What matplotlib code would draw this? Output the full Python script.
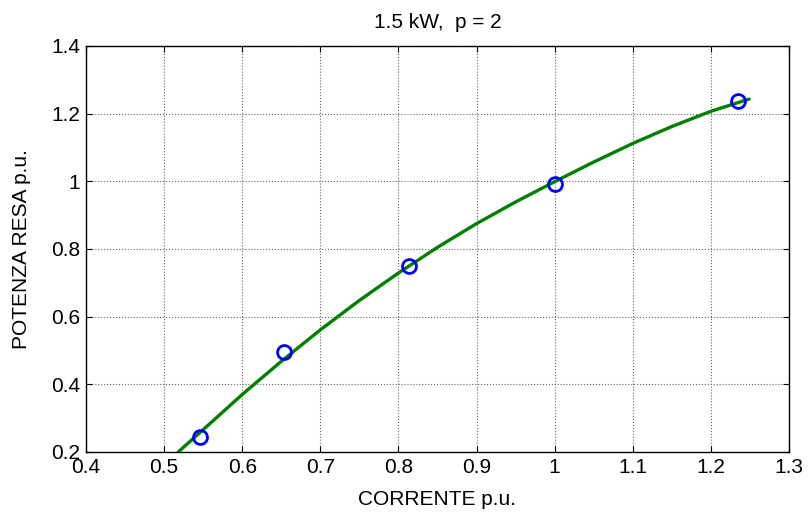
import matplotlib
matplotlib.use("Agg")
import matplotlib.pyplot as plt

# measured points
meas_x = [0.546, 0.654, 0.814, 1.001, 1.235]
meas_y = [0.245, 0.496, 0.750, 0.991, 1.238]

# fitted curve
fit_x = [0.518, 0.55, 0.60, 0.65, 0.70, 0.75, 0.80, 0.85, 0.90, 0.95, 1.00, 1.05, 1.10, 1.15, 1.20, 1.249]
fit_y = [0.200, 0.266, 0.370, 0.468, 0.561, 0.648, 0.729, 0.805, 0.875, 0.939, 0.999, 1.057, 1.112, 1.162, 1.207, 1.243]

xticks = [0.4, 0.5, 0.6, 0.7, 0.8, 0.9, 1.0, 1.1, 1.2, 1.3]
xtick_labels = ["0.4", "0.5", "0.6", "0.7", "0.8", "0.9", "1", "1.1", "1.2", "1.3"]
yticks = [0.2, 0.4, 0.6, 0.8, 1.0, 1.2, 1.4]
ytick_labels = ["0.2", "0.4", "0.6", "0.8", "1", "1.2", "1.4"]

plt.rcParams['font.family'] = ['Liberation Sans', 'DejaVu Sans']
FS = 15

fig = plt.figure(figsize=(8.10, 5.22), dpi=100)
ax = fig.add_axes([0.1062, 0.1341, 0.974 - 0.1062, 0.9119 - 0.1341])

ax.plot(fit_x, fit_y, color=(0, 0.5, 0), linewidth=2.4, zorder=3,
        solid_joinstyle='round', solid_capstyle='round')
ax.plot(meas_x, meas_y, linestyle='none', marker='o', markersize=10,
        markerfacecolor='none', markeredgecolor=(0, 0, 1), markeredgewidth=2.0, zorder=4)

ax.set_xlim(0.4, 1.3)
ax.set_ylim(0.2, 1.4)
ax.set_xticks(xticks)
ax.set_xticklabels(xtick_labels)
ax.set_yticks(yticks)
ax.set_yticklabels(ytick_labels)
ax.tick_params(direction='in', top=True, right=True, length=4, width=0.8,
               labelsize=FS, pad=4)
ax.grid(True, linestyle=':', color='#666666', linewidth=0.8)
ax.set_axisbelow(True)
for s in ax.spines.values():
    s.set_linewidth(1.0)

ax.set_title("1.5 kW,  p = 2", fontsize=FS, pad=13)
ax.set_xlabel("CORRENTE p.u.", fontsize=FS, labelpad=10)
ax.set_ylabel("POTENZA RESA p.u.", fontsize=FS, labelpad=15)

fig.savefig("out.png", dpi=100)
